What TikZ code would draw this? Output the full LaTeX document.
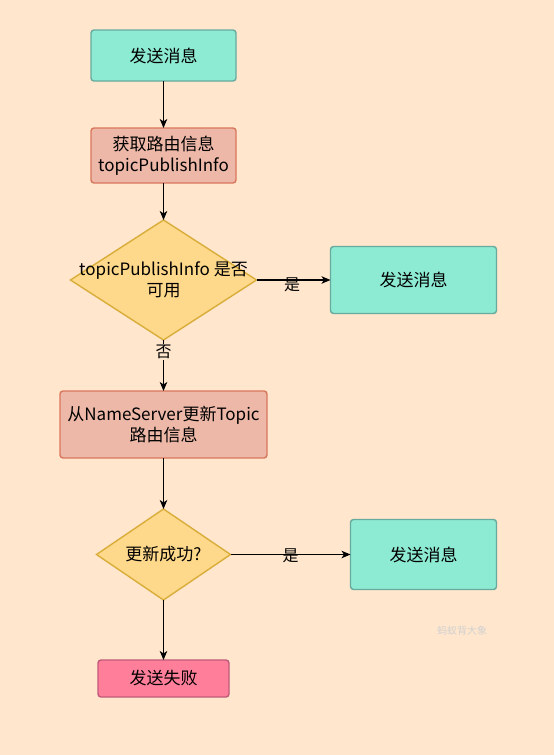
\documentclass[tikz,border=0pt]{standalone}
\usepackage{fontspec}
\setmainfont{Noto Sans CJK SC}
\usepackage{xcolor}
\usetikzlibrary{arrows.meta,positioning,shapes.geometric}

\definecolor{bgpeach}{HTML}{FFE6CC}
\definecolor{mintfill}{HTML}{8EEBD3}
\definecolor{mintline}{HTML}{67AB9F}
\definecolor{salmonfill}{HTML}{EDB8A7}
\definecolor{salmonline}{HTML}{D9775D}
\definecolor{goldfill}{HTML}{FFD98B}
\definecolor{goldline}{HTML}{D9AD3A}
\definecolor{pinkfill}{HTML}{FF7F9B}
\definecolor{pinkline}{HTML}{C05A78}

\begin{document}
\begin{tikzpicture}[
  node distance=47pt,
  box/.style={draw, rounded corners=3pt, line width=1.4pt, outer sep=0pt, align=center, inner sep=2pt, font=\fontsize{17}{21}\selectfont},
  ok/.style={box, fill=mintfill, draw=mintline},
  fetch/.style={box, fill=salmonfill, draw=salmonline},
  fail/.style={box, fill=pinkfill, draw=pinkline},
  decision/.style={diamond, draw=goldline, fill=goldfill, line width=1.4pt, outer sep=0pt, inner sep=0pt},
  dtext/.style={align=center, inner sep=0pt, font=\fontsize{17}{21}\selectfont},
  lbl/.style={inner sep=1pt, font=\fontsize{16}{19}\selectfont},
  arr/.style={-{Stealth[length=9pt, width=7.5pt, inset=2.5pt]}, line width=1.1pt}
]
\useasboundingbox (0,0) rectangle (554pt,-755pt);
\fill[bgpeach] (0,0) rectangle (554pt,-755pt);

\node[ok, minimum width=145pt, minimum height=51pt] (send) at (163.5pt,-55.5pt) {发送消息};
\node[fetch, minimum width=145pt, minimum height=55pt, below=47pt of send] (route) {获取路由信息\\topicPublishInfo};
\node[decision, minimum width=186pt, minimum height=120pt, below=37pt of route,
      label={[dtext]center:{topicPublishInfo 是否\\可用}}] (usable) {};
\node[ok, minimum width=166pt, minimum height=67pt, right=74pt of usable] (sendok) {发送消息};
\node[fetch, minimum width=207pt, minimum height=67pt, below=51pt of usable] (update) {从NameServer更新Topic\\路由信息};
\node[decision, minimum width=134pt, minimum height=91pt, below=51pt of update,
      label={[dtext]center:{更新成功?}}] (success) {};
\node[ok, minimum width=146pt, minimum height=70pt, right=120pt of success] (sendretry) {发送消息};
\node[fail, minimum width=131pt, minimum height=37pt, below=60pt of success] (failed) {发送失败};
\node[text=black!18, font=\fontsize{10}{12}\selectfont] (mark) at (462pt,-631pt) {蚂蚁背大象};

\draw[arr] (send) -- (route);
\draw[arr] (route) -- (usable);
\draw[arr] (usable) -- node[lbl, pos=0.48, yshift=-5pt]{是} (sendok);
\draw[arr] (usable) -- node[lbl, pos=0.24, fill=bgpeach]{否} (update);
\draw[arr] (update) -- (success);
\draw[arr] (success) -- node[lbl, pos=0.5, yshift=-1.5pt]{是} (sendretry);
\draw[arr] (success) -- (failed);
\end{tikzpicture}
\end{document}
